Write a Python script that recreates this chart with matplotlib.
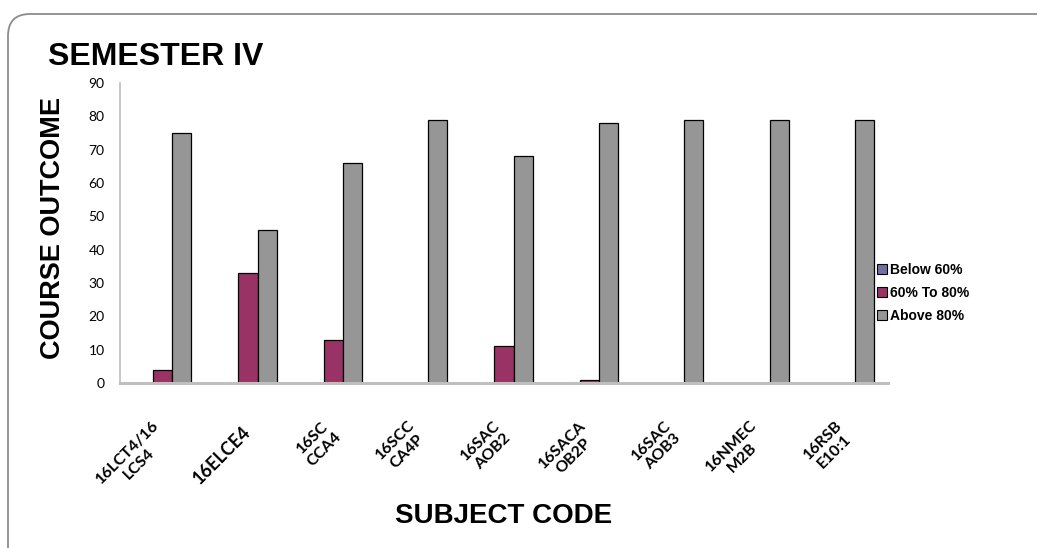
import matplotlib
matplotlib.use("Agg")
import matplotlib.pyplot as plt
import numpy as np
from matplotlib.patches import FancyBboxPatch, Patch
from matplotlib.transforms import IdentityTransform

subjects = ["16LCT4/16\nLCS4", "16ELCE4", "16SC\nCCA4", "16SCC\nCA4P", "16SAC\nAOB2",
            "16SACA\nOB2P", "16SAC\nAOB3", "16NMEC\nM2B", "16RSB\nE10:1"]
below_60 = [0, 0, 0, 0, 0, 0, 0, 0, 0]
mid_60_80 = [4, 33, 13, 0, 11, 1, 0, 0, 0]
above_80 = [75, 46, 66, 79, 68, 78, 79, 79, 79]
series_names = ["Below 60%", "60% To 80%", "Above 80%"]
yticks = [0, 10, 20, 30, 40, 50, 60, 70, 80, 90]

colors = ["#7070A0", "#993366", "#969696"]

W, H = 1037, 548
fig = plt.figure(figsize=(W / 100, H / 100), dpi=100)
fig.patch.set_facecolor("white")

# rounded frame
frame = FancyBboxPatch((8, -60), 1200, 534 + 60, boxstyle="round,pad=0,rounding_size=22",
                       transform=IdentityTransform(), facecolor="none",
                       edgecolor="#8C8C8C", linewidth=1.3)
fig.patches.append(frame)

ax = fig.add_axes([120 / W, 1 - 383 / H, 768 / W, 300 / H])
x = np.arange(len(subjects))
w = 0.223
series = [below_60, mid_60_80, above_80]
for i, (vals, col, name) in enumerate(zip(series, colors, series_names)):
    ax.bar(x + (i - 1) * w, vals, width=w, color=col, edgecolor="black",
           linewidth=0.9, label=name, zorder=3)

ax.set_xlim(-0.5, len(subjects) - 0.5)
ax.set_ylim(0, 90)
ax.set_yticks(yticks)
ax.set_yticklabels([str(v) for v in yticks], fontsize=10, family="Lato")
ax.tick_params(axis="y", length=0, pad=11)
ax.set_xticks(x)
ax.set_xticklabels(subjects)
ax.tick_params(axis="x", length=0, pad=33)
for i, lab in enumerate(ax.get_xticklabels()):
    lab.set_rotation(45)
    lab.set_ha("right")
    lab.set_va("center")
    lab.set_rotation_mode("anchor")
    lab.set_multialignment("center")
    lab.set_family("Lato")
    lab.set_weight("bold")
    lab.set_fontsize(13 if i == 1 else 11.5)

for s in ["top", "right"]:
    ax.spines[s].set_visible(False)
ax.spines["left"].set_color("#BFBFBF")
ax.spines["left"].set_linewidth(1.2)
ax.spines["bottom"].set_color("#BFBFBF")
ax.spines["bottom"].set_linewidth(2.2)
ax.spines["bottom"].set_zorder(5)

fig.text(48 / W, 1 - 57 / H, "SEMESTER IV", fontsize=23, weight="bold",
         family="Liberation Sans", ha="left", va="center")
fig.text(53 / W, 1 - 228 / H, "COURSE OUTCOME", fontsize=19.5, weight="bold",
         family="Liberation Sans", ha="center", va="center", rotation=90)
fig.text(504 / W, 1 - 516 / H, "SUBJECT CODE", fontsize=20, weight="bold",
         family="Liberation Sans", ha="center", va="center")

handles = [Patch(facecolor=c, edgecolor="black", linewidth=0.8) for c in colors]
fig.legend(handles, series_names, loc="center left", bbox_to_anchor=(877 / W, 1 - 293 / H),
           frameon=False, prop={"family": "Liberation Sans", "weight": "bold", "size": 10},
           handlelength=0.7, handleheight=0.7, handletextpad=0.25, labelspacing=0.65,
           borderpad=0, borderaxespad=0)

fig.savefig("out.png", dpi=100, facecolor="white")
